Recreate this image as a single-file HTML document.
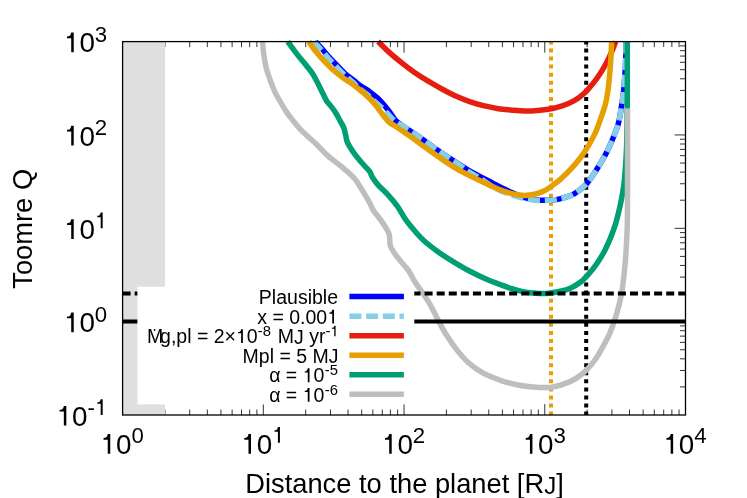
<!DOCTYPE html>
<html><head><meta charset="utf-8"><title>Toomre Q</title>
<style>html,body{margin:0;padding:0;background:#fff;}body{width:747px;height:498px;overflow:hidden;}svg{display:block;}text{font-family:"Liberation Sans",sans-serif;fill:#000;}</style>
</head><body>
<svg width="747" height="498" viewBox="0 0 747 498" style="will-change:transform">
<rect x="0" y="0" width="747" height="498" fill="#ffffff"/>
<defs><clipPath id="pc"><rect x="122.6" y="40.7" width="562.9" height="374.3"/></clipPath></defs>
<path d="M122.60,415.00 v-11.0 M122.60,41.60 v11.0 M164.96,415.00 v-5.5 M164.96,41.60 v5.5 M189.74,415.00 v-5.5 M189.74,41.60 v5.5 M207.32,415.00 v-5.5 M207.32,41.60 v5.5 M220.96,415.00 v-5.5 M220.96,41.60 v5.5 M232.11,415.00 v-5.5 M232.11,41.60 v5.5 M241.53,415.00 v-5.5 M241.53,41.60 v5.5 M249.69,415.00 v-5.5 M249.69,41.60 v5.5 M256.89,415.00 v-5.5 M256.89,41.60 v5.5 M263.32,415.00 v-11.0 M263.32,41.60 v11.0 M305.69,415.00 v-5.5 M305.69,41.60 v5.5 M330.47,415.00 v-5.5 M330.47,41.60 v5.5 M348.05,415.00 v-5.5 M348.05,41.60 v5.5 M361.69,415.00 v-5.5 M361.69,41.60 v5.5 M372.83,415.00 v-5.5 M372.83,41.60 v5.5 M382.25,415.00 v-5.5 M382.25,41.60 v5.5 M390.41,415.00 v-5.5 M390.41,41.60 v5.5 M397.61,415.00 v-5.5 M397.61,41.60 v5.5 M404.05,415.00 v-11.0 M404.05,41.60 v11.0 M446.41,415.00 v-5.5 M446.41,41.60 v5.5 M471.19,415.00 v-5.5 M471.19,41.60 v5.5 M488.77,415.00 v-5.5 M488.77,41.60 v5.5 M502.41,415.00 v-5.5 M502.41,41.60 v5.5 M513.56,415.00 v-5.5 M513.56,41.60 v5.5 M522.98,415.00 v-5.5 M522.98,41.60 v5.5 M531.14,415.00 v-5.5 M531.14,41.60 v5.5 M538.34,415.00 v-5.5 M538.34,41.60 v5.5 M544.77,415.00 v-11.0 M544.77,41.60 v11.0 M587.14,415.00 v-5.5 M587.14,41.60 v5.5 M611.92,415.00 v-5.5 M611.92,41.60 v5.5 M629.50,415.00 v-5.5 M629.50,41.60 v5.5 M643.14,415.00 v-5.5 M643.14,41.60 v5.5 M654.28,415.00 v-5.5 M654.28,41.60 v5.5 M663.70,415.00 v-5.5 M663.70,41.60 v5.5 M671.86,415.00 v-5.5 M671.86,41.60 v5.5 M679.06,415.00 v-5.5 M679.06,41.60 v5.5 M122.60,386.90 h5.5 M685.50,386.90 h-5.5 M122.60,370.46 h5.5 M685.50,370.46 h-5.5 M122.60,358.80 h5.5 M685.50,358.80 h-5.5 M122.60,349.75 h5.5 M685.50,349.75 h-5.5 M122.60,342.36 h5.5 M685.50,342.36 h-5.5 M122.60,336.11 h5.5 M685.50,336.11 h-5.5 M122.60,330.70 h5.5 M685.50,330.70 h-5.5 M122.60,325.92 h5.5 M685.50,325.92 h-5.5 M122.60,321.65 h11.0 M685.50,321.65 h-11.0 M122.60,293.55 h5.5 M685.50,293.55 h-5.5 M122.60,277.11 h5.5 M685.50,277.11 h-5.5 M122.60,265.45 h5.5 M685.50,265.45 h-5.5 M122.60,256.40 h5.5 M685.50,256.40 h-5.5 M122.60,249.01 h5.5 M685.50,249.01 h-5.5 M122.60,242.76 h5.5 M685.50,242.76 h-5.5 M122.60,237.35 h5.5 M685.50,237.35 h-5.5 M122.60,232.57 h5.5 M685.50,232.57 h-5.5 M122.60,228.30 h11.0 M685.50,228.30 h-11.0 M122.60,200.20 h5.5 M685.50,200.20 h-5.5 M122.60,183.76 h5.5 M685.50,183.76 h-5.5 M122.60,172.10 h5.5 M685.50,172.10 h-5.5 M122.60,163.05 h5.5 M685.50,163.05 h-5.5 M122.60,155.66 h5.5 M685.50,155.66 h-5.5 M122.60,149.41 h5.5 M685.50,149.41 h-5.5 M122.60,144.00 h5.5 M685.50,144.00 h-5.5 M122.60,139.22 h5.5 M685.50,139.22 h-5.5 M122.60,134.95 h11.0 M685.50,134.95 h-11.0 M122.60,106.85 h5.5 M685.50,106.85 h-5.5 M122.60,90.41 h5.5 M685.50,90.41 h-5.5 M122.60,78.75 h5.5 M685.50,78.75 h-5.5 M122.60,69.70 h5.5 M685.50,69.70 h-5.5 M122.60,62.31 h5.5 M685.50,62.31 h-5.5 M122.60,56.06 h5.5 M685.50,56.06 h-5.5 M122.60,50.65 h5.5 M685.50,50.65 h-5.5 M122.60,45.87 h5.5 M685.50,45.87 h-5.5" stroke="#000" stroke-width="0.8" fill="none"/>
<rect x="122.6" y="41.6" width="42.4" height="373.4" fill="#dfdfdf"/>
<g fill="none" stroke-linejoin="round" stroke-linecap="butt">
<path d="M551,41.6 V415.0" stroke="#e69f00" stroke-width="4" stroke-dasharray="4 4.07" stroke-dashoffset="1.20"/>
<path d="M586.2,41.6 V415.0" stroke="#000000" stroke-width="4" stroke-dasharray="4 4.07" stroke-dashoffset="1.20"/>
<path d="M315.3,41.6 C316.5,43.0 320.5,47.1 322.8,49.7 C325.1,52.3 327.1,54.8 329.3,57.3 C331.5,59.8 333.6,61.9 336.2,64.5 C338.8,67.2 341.6,70.5 344.6,73.2 C347.7,76.0 351.9,78.9 354.5,81.0 C357.1,83.1 357.5,83.8 360.0,85.6 C362.5,87.4 366.6,89.4 369.6,91.6 C372.6,93.8 375.5,96.0 378.1,98.5 C380.7,101.0 383.1,103.9 385.3,106.5 C387.5,109.1 389.5,111.9 391.3,114.3 C393.1,116.7 394.1,119.0 396.1,121.0 C398.1,123.0 401.0,124.7 403.4,126.4 C405.8,128.1 408.2,129.6 410.6,131.2 C413.0,132.8 414.2,133.5 417.8,136.0 C421.4,138.5 427.6,143.2 432.0,146.3 C436.4,149.4 440.1,151.9 444.1,154.6 C448.1,157.3 452.1,159.8 456.1,162.4 C460.1,165.0 464.2,167.8 468.2,170.2 C472.2,172.6 476.2,174.6 480.2,176.7 C484.2,178.8 488.3,180.8 492.3,182.9 C496.3,185.0 500.3,187.2 504.3,189.1 C508.3,191.0 512.4,193.0 516.4,194.6 C520.4,196.2 524.4,197.6 528.4,198.5 C532.4,199.4 536.5,200.1 540.5,200.3 C544.5,200.5 548.9,200.2 552.5,199.9 C556.1,199.6 558.4,199.3 562.0,198.3 C565.6,197.3 570.1,196.2 574.1,193.9 C578.1,191.6 582.4,188.2 586.1,184.3 C589.8,180.4 593.0,175.1 596.2,170.2 C599.4,165.3 602.5,160.1 605.2,155.1 C607.9,150.1 610.0,145.4 612.2,140.1 C614.4,134.8 616.9,129.0 618.5,123.0 C620.1,117.0 620.9,109.8 621.8,104.3 C622.7,98.8 623.1,95.9 623.7,90.2 C624.3,84.5 624.9,75.9 625.2,70.2 C625.6,64.5 625.6,60.9 625.8,56.1 C626.0,51.3 626.2,44.0 626.2,41.6" stroke="#0000ff" stroke-width="5.5"/>
<path d="M313.9,41.6 C315.2,43.1 319.5,47.7 321.9,50.5 C324.3,53.3 326.2,55.7 328.4,58.2 C330.6,60.7 332.7,62.7 335.3,65.4 C337.9,68.1 340.8,71.4 343.8,74.2 C346.8,77.0 350.8,80.2 353.2,82.5 C355.6,84.8 356.2,86.0 358.5,88.0 C360.8,90.0 364.5,92.3 367.2,94.6 C369.9,96.9 372.1,99.3 374.7,101.6 C377.3,103.9 380.2,106.2 382.7,108.5 C385.2,110.8 387.4,113.4 389.5,115.6 C391.6,117.8 393.3,119.7 395.6,121.5 C397.9,123.3 400.9,124.8 403.4,126.4 C405.9,128.0 408.2,129.6 410.6,131.2 C413.0,132.8 414.2,133.5 417.8,136.0 C421.4,138.5 427.6,143.2 432.0,146.3 C436.4,149.4 440.1,151.9 444.1,154.6 C448.1,157.3 452.1,159.7 456.1,162.5 C460.1,165.3 464.2,168.5 468.2,171.2 C472.2,173.9 476.2,176.0 480.2,178.6 C484.2,181.2 488.3,184.3 492.3,186.6 C496.3,188.9 500.3,190.7 504.3,192.3 C508.3,193.9 512.4,195.1 516.4,196.3 C520.4,197.5 524.4,198.6 528.4,199.3 C532.4,200.0 536.5,200.5 540.5,200.6 C544.5,200.7 548.9,200.3 552.5,199.9 C556.1,199.5 558.4,199.3 562.0,198.3 C565.6,197.3 570.1,196.2 574.1,193.9 C578.1,191.6 582.4,188.2 586.1,184.3 C589.8,180.4 593.0,175.1 596.2,170.2 C599.4,165.3 602.5,160.1 605.2,155.1 C607.9,150.1 610.0,145.4 612.2,140.1 C614.4,134.8 616.9,129.0 618.5,123.0 C620.1,117.0 620.9,109.8 621.8,104.3 C622.7,98.8 623.1,95.9 623.7,90.2 C624.3,84.5 624.9,75.9 625.2,70.2 C625.6,64.5 625.6,60.9 625.8,56.1 C626.0,51.3 626.2,44.0 626.2,41.6" stroke="#87ceeb" stroke-width="5.5" stroke-dasharray="12.1 4.77" stroke-dashoffset="0.89"/>
<path d="M378.1,41.6 C380.1,43.5 386.1,49.5 390.1,53.1 C394.1,56.7 398.1,59.9 402.1,63.1 C406.1,66.3 409.9,69.2 414.2,72.2 C418.5,75.2 423.5,78.4 428.2,81.2 C432.9,84.0 437.6,86.7 442.3,89.2 C447.0,91.7 451.6,94.2 456.3,96.3 C461.0,98.4 465.7,100.3 470.4,101.9 C475.1,103.5 479.8,104.8 484.5,105.9 C489.2,107.0 494.1,108.0 498.5,108.7 C502.9,109.4 507.0,109.6 510.6,109.9 C514.2,110.2 516.4,110.5 520.0,110.7 C523.6,110.9 527.4,111.1 532.1,110.9 C536.8,110.7 543.2,110.1 548.2,109.3 C553.2,108.5 557.9,107.3 562.2,105.9 C566.6,104.5 570.6,102.8 574.3,100.7 C578.0,98.6 581.3,96.0 584.3,93.3 C587.3,90.5 589.7,87.5 592.4,84.2 C595.1,80.9 597.9,77.0 600.4,73.2 C602.9,69.4 605.4,65.0 607.4,61.1 C609.4,57.2 611.0,53.4 612.4,50.1 C613.8,46.9 615.2,43.0 615.8,41.6" stroke="#e51e10" stroke-width="5.5"/>
<path d="M308.8,41.6 C310.0,43.4 313.7,48.9 316.3,52.1 C318.9,55.4 321.6,58.2 324.3,61.1 C327.0,64.0 329.4,66.5 332.4,69.2 C335.4,71.9 339.1,74.9 342.4,77.4 C345.7,79.9 349.5,81.9 352.4,84.0 C355.3,86.1 357.5,88.0 360.0,90.0 C362.5,92.0 364.8,94.0 367.2,96.3 C369.6,98.6 372.3,101.2 374.5,103.8 C376.7,106.4 378.7,109.3 380.5,111.7 C382.3,114.1 383.8,116.2 385.3,118.0 C386.8,119.8 387.7,121.1 389.5,122.6 C391.3,124.0 393.6,125.1 396.1,126.7 C398.6,128.3 401.8,130.5 404.6,132.4 C407.4,134.3 410.4,136.3 413.0,138.2 C415.6,140.1 416.8,141.2 420.0,143.6 C423.2,145.9 428.0,149.5 432.0,152.3 C436.0,155.1 440.1,157.9 444.1,160.6 C448.1,163.3 452.1,166.0 456.1,168.4 C460.1,170.8 464.2,172.8 468.2,174.9 C472.2,177.0 476.2,178.9 480.2,180.8 C484.2,182.7 488.3,184.7 492.3,186.5 C496.3,188.3 500.6,190.1 504.3,191.4 C508.0,192.7 511.0,193.6 514.4,194.3 C517.8,195.0 521.0,195.4 524.4,195.4 C527.8,195.4 531.1,195.0 534.5,194.2 C537.9,193.4 541.5,192.3 544.5,190.8 C547.5,189.3 549.9,187.3 552.5,185.4 C555.1,183.5 557.1,182.2 560.0,179.6 C562.9,177.0 566.8,173.4 570.1,169.8 C573.5,166.2 577.1,162.1 580.1,158.2 C583.1,154.2 585.7,150.3 588.2,146.1 C590.7,141.9 593.2,137.4 595.2,133.1 C597.2,128.8 598.5,124.8 600.2,120.0 C601.9,115.2 604.1,109.3 605.4,104.3 C606.7,99.3 607.2,95.9 608.0,90.2 C608.8,84.5 609.5,75.9 610.0,70.2 C610.5,64.5 610.7,60.9 611.0,56.1 C611.3,51.3 611.5,44.0 611.6,41.6" stroke="#e69f00" stroke-width="5.5"/>
<path d="M287.7,41.6 C289.1,43.5 293.4,49.5 296.2,53.1 C299.0,56.7 301.6,59.8 304.3,63.1 C307.0,66.5 309.8,69.4 312.3,73.2 C314.8,77.0 317.0,81.7 319.3,86.2 C321.6,90.7 324.6,97.3 326.3,100.3 C328.0,103.3 327.9,102.3 329.4,104.3 C330.9,106.3 333.6,109.4 335.4,112.3 C337.2,115.2 339.0,118.8 340.4,121.4 C341.8,124.0 343.0,125.5 343.9,128.0 C344.8,130.4 345.3,133.8 345.9,136.1 C346.5,138.4 346.1,139.4 347.3,142.1 C348.5,144.8 351.0,148.8 353.3,152.1 C355.6,155.4 358.6,159.0 361.3,162.2 C364.0,165.4 367.5,168.7 369.4,171.2 C371.2,173.7 370.9,174.8 372.4,177.2 C373.9,179.5 375.7,182.3 378.4,185.3 C381.1,188.3 385.2,191.8 388.4,195.3 C391.6,198.8 394.6,202.3 397.5,206.3 C400.4,210.3 402.7,215.4 405.5,219.4 C408.3,223.4 411.1,226.7 414.2,230.3 C417.3,233.9 420.3,237.4 424.3,241.0 C428.3,244.6 433.3,248.4 438.3,252.0 C443.3,255.6 449.0,259.1 454.4,262.4 C459.8,265.6 465.0,268.7 470.4,271.5 C475.8,274.3 481.5,277.1 486.5,279.3 C491.5,281.5 496.4,283.1 500.6,284.7 C504.9,286.3 508.1,287.5 512.0,288.7 C515.9,289.9 520.1,291.1 524.1,291.9 C528.1,292.7 532.1,293.1 536.1,293.3 C540.1,293.5 544.2,293.6 548.2,293.3 C552.2,293.0 556.5,292.1 560.2,291.3 C563.9,290.5 566.9,289.8 570.3,288.3 C573.6,286.8 577.3,284.6 580.3,282.3 C583.3,280.0 585.7,277.3 588.4,274.3 C591.1,271.3 593.7,268.1 596.4,264.2 C599.1,260.3 602.1,255.5 604.4,251.2 C606.7,246.8 608.5,242.6 610.4,238.1 C612.2,233.6 614.2,228.2 615.5,224.1 C616.8,220.0 617.5,216.8 618.3,213.5 C619.1,210.2 619.7,207.9 620.4,204.5 C621.1,201.1 621.9,197.1 622.6,193.0 C623.3,188.9 623.9,185.7 624.4,180.2 C624.9,174.7 625.5,166.9 625.9,160.2 C626.3,153.5 626.6,150.1 626.8,140.1 C627.0,130.1 627.2,113.3 627.3,100.0 C627.4,86.7 627.3,69.7 627.3,60.0 C627.3,50.3 627.3,44.7 627.3,41.6" stroke="#009e73" stroke-width="5.5"/>
<path d="M262.5,41.6 C262.7,43.7 263.1,49.7 263.7,54.1 C264.3,58.5 265.2,63.9 266.3,68.2 C267.4,72.5 268.8,76.2 270.2,80.2 C271.6,84.2 273.5,88.9 275.0,92.2 C276.5,95.5 277.4,96.7 279.3,100.0 C281.2,103.3 284.4,108.8 286.6,112.1 C288.8,115.4 290.4,117.3 292.6,120.1 C294.9,122.9 297.5,126.3 300.1,129.1 C302.7,131.9 305.4,134.0 308.2,136.7 C311.0,139.3 313.9,141.8 317.2,145.0 C320.5,148.2 324.0,152.4 328.2,156.1 C332.4,159.8 337.8,163.5 342.2,167.2 C346.6,170.9 350.9,174.3 354.3,178.2 C357.7,182.0 359.8,186.3 362.3,190.3 C364.8,194.3 367.5,199.0 369.4,202.3 C371.2,205.7 371.3,207.1 373.4,210.4 C375.5,213.7 379.5,218.1 382.1,222.0 C384.7,225.9 387.7,230.1 389.1,234.1 C390.5,238.1 389.0,242.1 390.5,246.1 C392.0,250.1 395.2,254.2 398.2,258.2 C401.1,262.2 405.4,266.2 408.2,270.2 C411.0,274.2 412.9,278.6 415.2,282.3 C417.5,286.0 419.9,289.0 422.2,292.3 C424.5,295.6 427.0,299.4 428.8,302.4 C430.6,305.3 431.4,306.9 433.0,310.0 C434.6,313.1 436.4,316.9 438.6,321.1 C440.9,325.3 443.5,330.4 446.5,335.1 C449.5,339.8 452.7,344.8 456.4,349.4 C460.1,354.0 464.0,358.8 468.5,362.8 C473.0,366.8 478.0,370.3 483.3,373.2 C488.6,376.1 494.9,378.4 500.4,380.3 C505.9,382.2 511.1,383.7 516.5,384.8 C521.9,385.9 526.9,386.6 532.5,387.0 C538.1,387.4 544.7,387.9 550.0,387.4 C555.3,386.9 559.8,385.4 564.1,383.9 C568.5,382.4 572.4,380.6 576.1,378.3 C579.8,376.0 582.9,373.7 586.2,370.3 C589.6,366.9 593.2,362.6 596.2,358.2 C599.2,353.8 601.9,348.5 604.3,344.2 C606.6,339.9 608.5,336.5 610.3,332.1 C612.1,327.8 613.8,322.8 615.3,318.1 C616.8,313.4 618.2,308.6 619.3,304.0 C620.4,299.4 621.2,295.9 622.1,290.3 C623.0,284.7 623.8,276.9 624.5,270.2 C625.2,263.5 625.7,256.9 626.1,250.2 C626.5,243.5 626.9,236.8 627.1,230.1 C627.3,223.4 627.4,221.7 627.5,210.0 C627.6,198.3 627.5,176.9 627.5,160.0 C627.5,143.1 627.5,116.9 627.5,108.3" stroke="#bebebe" stroke-width="5.5"/>
<path d="M122.6,293.5 H685.5" stroke="#000" stroke-width="4" stroke-dasharray="8 4.08"/>
<path d="M122.6,321.6 H685.5" stroke="#000" stroke-width="4"/>
</g>
<rect x="137.4" y="286.7" width="276.9" height="117.7" fill="#ffffff"/>
<path d="M349.4,296.60 H403.9" stroke="#0000ff" stroke-width="5.5" fill="none"/>
<path d="M349.4,316.15 H403.9" stroke="#87ceeb" stroke-width="5.5" fill="none" stroke-dasharray="12 4.7"/>
<path d="M349.4,335.70 H403.9" stroke="#e51e10" stroke-width="5.5" fill="none"/>
<path d="M349.4,355.25 H403.9" stroke="#e69f00" stroke-width="5.5" fill="none"/>
<path d="M349.4,374.80 H403.9" stroke="#009e73" stroke-width="5.5" fill="none"/>
<path d="M349.4,394.35 H403.9" stroke="#bebebe" stroke-width="5.5" fill="none"/>
<text x="258.87" y="304.00" font-size="19.50" style="font-kerning:none" xml:space="preserve">Plausible</text>
<text x="257.23" y="323.55" font-size="19.50" style="font-kerning:none" xml:space="preserve">x = 0.00</text>
<path transform="translate(327.15,323.55) scale(0.01950,-0.01950)" d="M352,0 L352,709 L262,709 Q252,610 196,580 Q170,568 110,566 L110,503 L262,503 L262,0 Z" fill="#000"/>
<text x="146.88" y="343.10" font-size="19.50" style="font-kerning:none" xml:space="preserve">M</text>
<text x="160.12" y="343.10" font-size="19.50" style="font-kerning:none" xml:space="preserve">g,pl = 2×</text>
<path transform="translate(236.02,343.10) scale(0.01950,-0.01950)" d="M352,0 L352,709 L262,709 Q252,610 196,580 Q170,568 110,566 L110,503 L262,503 L262,0 Z" fill="#000"/>
<text x="246.86" y="343.10" font-size="19.50" style="font-kerning:none" xml:space="preserve">0</text>
<text x="257.71" y="336.20" font-size="14.80" style="font-kerning:none" xml:space="preserve">-8</text>
<text x="272.37" y="343.10" font-size="19.50" style="font-kerning:none" xml:space="preserve"> M</text>
<text x="294.03" y="343.70" font-size="19.50" style="font-kerning:none" xml:space="preserve">J</text>
<text x="303.78" y="343.10" font-size="19.50" style="font-kerning:none" xml:space="preserve"> yr</text>
<text x="325.44" y="336.20" font-size="14.80" style="font-kerning:none" xml:space="preserve">-</text>
<path transform="translate(330.37,336.20) scale(0.01480,-0.01480)" d="M352,0 L352,709 L262,709 Q252,610 196,580 Q170,568 110,566 L110,503 L262,503 L262,0 Z" fill="#000"/>
<circle cx="154.6" cy="330.0" r="0.9" fill="#000"/>
<text x="242.60" y="362.65" font-size="19.50" style="font-kerning:none" xml:space="preserve">Mpl = 5 M</text>
<text x="328.75" y="363.25" font-size="19.50" style="font-kerning:none" xml:space="preserve">J</text>
<text x="269.15" y="382.20" font-size="19.50" style="font-kerning:none" xml:space="preserve">α = </text>
<path transform="translate(302.65,382.20) scale(0.01950,-0.01950)" d="M352,0 L352,709 L262,709 Q252,610 196,580 Q170,568 110,566 L110,503 L262,503 L262,0 Z" fill="#000"/>
<text x="313.50" y="382.20" font-size="19.50" style="font-kerning:none" xml:space="preserve">0</text>
<text x="324.84" y="375.30" font-size="14.80" style="font-kerning:none" xml:space="preserve">-5</text>
<text x="269.15" y="401.75" font-size="19.50" style="font-kerning:none" xml:space="preserve">α = </text>
<path transform="translate(302.65,401.75) scale(0.01950,-0.01950)" d="M352,0 L352,709 L262,709 Q252,610 196,580 Q170,568 110,566 L110,503 L262,503 L262,0 Z" fill="#000"/>
<text x="313.50" y="401.75" font-size="19.50" style="font-kerning:none" xml:space="preserve">0</text>
<text x="324.84" y="394.85" font-size="14.80" style="font-kerning:none" xml:space="preserve">-6</text>
<rect x="122.6" y="41.6" width="562.9" height="373.4" fill="none" stroke="#000" stroke-width="1.3"/>
<path transform="translate(63.94,52.20) scale(0.02780,-0.02780)" d="M352,0 L352,709 L262,709 Q252,610 196,580 Q170,568 110,566 L110,503 L262,503 L262,0 Z" fill="#000"/>
<text x="79.40" y="52.20" font-size="27.80">0</text>
<text x="94.86" y="41.60" font-size="22.20">3</text>
<path transform="translate(63.94,145.55) scale(0.02780,-0.02780)" d="M352,0 L352,709 L262,709 Q252,610 196,580 Q170,568 110,566 L110,503 L262,503 L262,0 Z" fill="#000"/>
<text x="79.40" y="145.55" font-size="27.80">0</text>
<text x="94.86" y="134.95" font-size="22.20">2</text>
<path transform="translate(63.94,238.90) scale(0.02780,-0.02780)" d="M352,0 L352,709 L262,709 Q252,610 196,580 Q170,568 110,566 L110,503 L262,503 L262,0 Z" fill="#000"/>
<text x="79.40" y="238.90" font-size="27.80">0</text>
<path transform="translate(94.86,228.30) scale(0.02220,-0.02220)" d="M352,0 L352,709 L262,709 Q252,610 196,580 Q170,568 110,566 L110,503 L262,503 L262,0 Z" fill="#000"/>
<path transform="translate(63.94,332.25) scale(0.02780,-0.02780)" d="M352,0 L352,709 L262,709 Q252,610 196,580 Q170,568 110,566 L110,503 L262,503 L262,0 Z" fill="#000"/>
<text x="79.40" y="332.25" font-size="27.80">0</text>
<text x="94.86" y="321.65" font-size="22.20">0</text>
<path transform="translate(56.55,425.60) scale(0.02780,-0.02780)" d="M352,0 L352,709 L262,709 Q252,610 196,580 Q170,568 110,566 L110,503 L262,503 L262,0 Z" fill="#000"/>
<text x="72.01" y="425.60" font-size="27.80">0</text>
<text x="87.46" y="415.00" font-size="22.20">-</text>
<path transform="translate(94.86,415.00) scale(0.02220,-0.02220)" d="M352,0 L352,709 L262,709 Q252,610 196,580 Q170,568 110,566 L110,503 L262,503 L262,0 Z" fill="#000"/>
<path transform="translate(100.47,453.70) scale(0.02780,-0.02780)" d="M352,0 L352,709 L262,709 Q252,610 196,580 Q170,568 110,566 L110,503 L262,503 L262,0 Z" fill="#000"/>
<text x="115.93" y="453.70" font-size="27.80">0</text>
<text x="131.39" y="442.80" font-size="22.20">0</text>
<path transform="translate(241.20,453.70) scale(0.02780,-0.02780)" d="M352,0 L352,709 L262,709 Q252,610 196,580 Q170,568 110,566 L110,503 L262,503 L262,0 Z" fill="#000"/>
<text x="256.65" y="453.70" font-size="27.80">0</text>
<path transform="translate(272.11,442.80) scale(0.02220,-0.02220)" d="M352,0 L352,709 L262,709 Q252,610 196,580 Q170,568 110,566 L110,503 L262,503 L262,0 Z" fill="#000"/>
<path transform="translate(381.92,453.70) scale(0.02780,-0.02780)" d="M352,0 L352,709 L262,709 Q252,610 196,580 Q170,568 110,566 L110,503 L262,503 L262,0 Z" fill="#000"/>
<text x="397.38" y="453.70" font-size="27.80">0</text>
<text x="412.84" y="442.80" font-size="22.20">2</text>
<path transform="translate(522.65,453.70) scale(0.02780,-0.02780)" d="M352,0 L352,709 L262,709 Q252,610 196,580 Q170,568 110,566 L110,503 L262,503 L262,0 Z" fill="#000"/>
<text x="538.10" y="453.70" font-size="27.80">0</text>
<text x="553.56" y="442.80" font-size="22.20">3</text>
<path transform="translate(663.37,453.70) scale(0.02780,-0.02780)" d="M352,0 L352,709 L262,709 Q252,610 196,580 Q170,568 110,566 L110,503 L262,503 L262,0 Z" fill="#000"/>
<text x="678.83" y="453.70" font-size="27.80">0</text>
<text x="694.29" y="442.80" font-size="22.20">4</text>
<text transform="translate(404.5,493.4)" font-size="27.3" text-anchor="middle">Distance to the planet [R<tspan font-size="24.0" dy="1.0">J</tspan><tspan dy="-1">]</tspan></text>
<text transform="translate(32.3,228.8) rotate(-90)" font-size="27.3" text-anchor="middle">Toomre Q</text>
</svg>
</body></html>
